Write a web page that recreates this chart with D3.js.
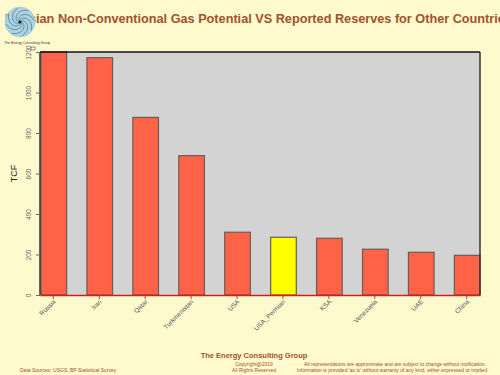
<!DOCTYPE html>
<html>
<head>
<meta charset="utf-8">
<script src="https://cdn.jsdelivr.net/npm/d3@7"></script>
<style>
  body { margin: 0; background: #FFF9CE; }
  svg { display: block; font-family: "Liberation Sans", Arial, sans-serif; }
</style>
</head>
<body>
<svg width="500" height="375"></svg>
<script>
// data
const countries = ["Russia", "Iran", "Qatar", "Turkmenistan", "USA", "USA_Permian", "KSA", "Venezuela", "UAE", "China"];
const reserves = [1200, 1172, 877, 688, 310, 285, 280, 226, 211, 196];
const yTicks = [0, 200, 400, 600, 800, 1000, 1200];

const margin = {top: 52, right: 20, bottom: 80, left: 40},
    width = 500 - margin.left - margin.right,
    height = 375 - margin.top - margin.bottom;

const svg = d3.select("svg");

// title (logo sits on top of it, runs past the right edge like the original)
svg.append("text")
    .attr("x", 5)
    .attr("y", 23)
    .attr("fill", "#A0522D")
    .attr("font-size", 12.7)
    .attr("font-weight", "bold")
    .text("Russian Non-Conventional Gas Potential VS Reported Reserves for Other Countries");

let g = svg.append("g")
    .attr("transform", "translate(" + margin.left + "," + margin.top + ")");

let x = d3.scaleBand()
    .domain(countries)
    .range([0, width])
    .paddingInner(0.42)
    .paddingOuter(0);

let y = d3.scaleLinear()
    .domain([0, 1200])
    .range([height, 0]);

g.append("rect")
    .attr("width", width)
    .attr("height", height)
    .attr("fill", "#D3D3D3");

// bars
g.selectAll(".bar")
    .data(countries)
  .enter().append("rect")
    .attr("class", "bar")
    .attr("x", d => x(d) + 1)
    .attr("y", (d, i) => y(reserves[i]))
    .attr("width", x.bandwidth() - 1)
    .attr("height", (d, i) => height - y(reserves[i]))
    .attr("fill", d => d == "USA_Permian" ? "#FFFF00" : "#FF6347")
    .attr("stroke", "#6b5a55")
    .attr("stroke-width", 1.2);

// frame
g.append("line").attr("x1", 0).attr("x2", width).attr("y1", 0).attr("y2", 0)
    .attr("stroke", "#111").attr("stroke-width", 1.5);
g.append("line").attr("x1", width).attr("x2", width).attr("y1", 0).attr("y2", height)
    .attr("stroke", "#333").attr("stroke-width", 1.5);
g.append("line").attr("x1", 0).attr("x2", 0).attr("y1", 0).attr("y2", height)
    .attr("stroke", "#333").attr("stroke-width", 1.5);

// y axis
let yAxis = g.append("g")
    .call(d3.axisLeft(y).tickValues(yTicks).tickFormat(d3.format("d")).tickSize(4).tickSizeOuter(0));
yAxis.select(".domain").remove();
yAxis.selectAll(".tick line").attr("stroke", "#666");
yAxis.selectAll(".tick text")
    .attr("fill", "#666")
    .attr("font-size", 6.5)
    .attr("transform", "rotate(-90)")
    .attr("text-anchor", "middle")
    .attr("x", 0)
    .attr("y", -9)
    .attr("dy", 0);

// x axis
let xAxis = g.append("g")
    .attr("transform", "translate(0," + height + ")")
    .call(d3.axisBottom(x).tickSize(4).tickSizeOuter(0));
xAxis.select(".domain").attr("stroke", "#CC2020").attr("stroke-width", 1.5);
xAxis.selectAll(".tick line").attr("stroke", "#E03030");
xAxis.selectAll(".tick text")
    .attr("fill", "#555")
    .attr("font-size", 6.5)
    .attr("text-anchor", "end")
    .attr("transform", "rotate(-45)")
    .attr("x", -3)
    .attr("y", 7)
    .attr("dy", 0);

svg.append("text")
    .attr("transform", "translate(17," + (margin.top + height / 2) + ") rotate(-90)")
    .attr("text-anchor", "middle")
    .attr("font-size", 9)
    .attr("fill", "#222")
    .text("TCF");

// logo
let logo = svg.append("g").attr("transform", "translate(20,22)");
logo.append("circle").attr("r", 15).attr("fill", "#A9D4E6").attr("stroke", "#8fbfd4").attr("stroke-width", 0.5);
d3.range(8).forEach(function(k) {
    let pts = d3.range(0, 1.01, 0.1).map(function(t) {
        let a = k * Math.PI / 4 + t * 2.2, r = 1 + t * 13;
        return [r * Math.cos(a), r * Math.sin(a)];
    });
    logo.append("path").attr("d", d3.line()(pts))
        .attr("fill", "none").attr("stroke", "#4a5a66").attr("stroke-width", 0.6);
});
logo.append("circle").attr("r", 1.5).attr("fill", "#222");
svg.append("text").attr("x", 4).attr("y", 44).attr("font-size", 3.5).attr("fill", "#333")
    .text("The Energy Consulting Group");
svg.append("rect").attr("x", 31).attr("y", 47).attr("width", 4).attr("height", 3)
    .attr("fill", "none").attr("stroke", "#333").attr("stroke-width", 0.5);

// footer
const sienna = "#A0522D";
svg.append("text").attr("x", 254).attr("y", 358).attr("text-anchor", "middle")
    .attr("font-size", 7.5).attr("font-weight", "bold").attr("fill", sienna)
    .text("The Energy Consulting Group");
svg.append("text").attr("x", 254).attr("y", 365.5).attr("text-anchor", "middle")
    .attr("font-size", 5).attr("fill", sienna).text("Copyright@2019");
svg.append("text").attr("x", 254).attr("y", 372).attr("text-anchor", "middle")
    .attr("font-size", 5).attr("fill", sienna).text("All Rights Reserved");
svg.append("text").attr("x", 20).attr("y", 372)
    .attr("font-size", 5).attr("fill", sienna).text("Data Sources: USGS, BP Statistical Survey");
svg.append("text").attr("x", 395).attr("y", 365.5).attr("text-anchor", "middle")
    .attr("font-size", 5).attr("fill", sienna)
    .text("All representations are approximate and are subject to change without notification.");
svg.append("text").attr("x", 392).attr("y", 372).attr("text-anchor", "middle")
    .attr("font-size", 5).attr("fill", sienna)
    .text("Information is provided 'as is' without warranty of any kind, either expressed or implied");
</script>
</body>
</html>
